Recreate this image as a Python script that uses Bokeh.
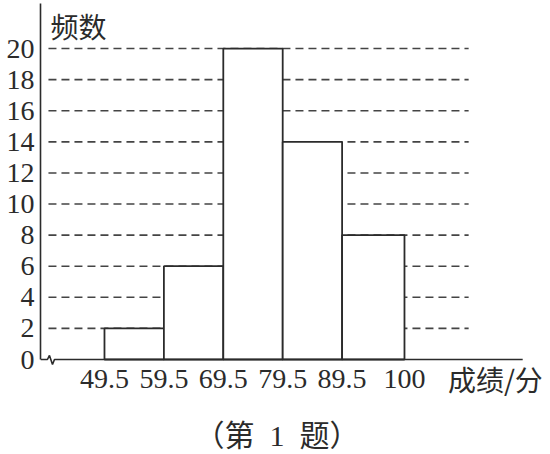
from bokeh.plotting import figure
from bokeh.models import Range1d, FixedTicker, Label
from bokeh.core.properties import value
from bokeh.embed import file_html
from bokeh.resources import INLINE

# score groups (bin edges) and how many students fall in each group
edges = [49.5, 59.5, 69.5, 79.5, 89.5, 100]
edge_labels = ["49.5", "59.5", "69.5", "79.5", "89.5", "100"]
counts = [2, 6, 20, 14, 8]
y_ticks = [0, 2, 4, 6, 8, 10, 12, 14, 16, 18, 20]
x_title = "成绩/分"
y_title = "频数"
caption = "（第\u20021\u2002题）"

ink = "#2b2b2b"
serif = "Liberation Serif"
cjk = "Noto Sans CJK SC"

x0, x1 = 38.73, 124.58
y0, y1 = -6.11, 23.09
label_row = -1.26

p = figure(width=550, height=454,
           x_range=Range1d(x0, x1), y_range=Range1d(y0, y1),
           output_backend="svg", toolbar_location=None,
           min_border_left=40, min_border_right=0, min_border_top=0, min_border_bottom=0)
p.grid.visible = False
p.outline_line_color = None
p.xaxis.visible = False

# dashed guide lines, hidden behind the white bars
levels = y_ticks[1:]
p.segment(x0=[40.07] * len(levels), y0=levels, x1=[110.8] * len(levels), y1=levels,
          line_color="#444444", line_width=1.6, line_dash="8 5")

p.quad(left=edges[:-1], right=edges[1:], bottom=0, top=counts,
       fill_color="white", line_color=ink, line_width=1.8)

# x axis line with the little break near the origin
p.line(x=[x0, 39.9, 40.24, 40.75, 41.08, 119.9], y=[0, 0, 0.26, -0.32, 0, 0],
       line_color=ink, line_width=1.6)

# group edge labels under the x axis line
p.text(x=edges, y=[label_row] * len(edges), text=edge_labels,
       text_font=value(serif), text_font_size="28px", text_color=ink,
       text_align="center", text_baseline="alphabetic")

ya = p.yaxis[0]
ya.ticker = FixedTicker(ticks=y_ticks)
ya.bounds = (0, 22.9)
ya.axis_line_color = ink
ya.axis_line_width = 1.6
ya.major_tick_out = 0
ya.major_tick_in = 0
ya.minor_tick_out = 0
ya.minor_tick_in = 0
ya.major_label_standoff = 6
ya.major_label_text_font = serif
ya.major_label_text_font_size = "28px"
ya.major_label_text_color = ink

p.add_layout(Label(x=40.4, y=22.75, text=y_title, text_font=cjk, text_font_size="28px",
                   text_color=ink, text_baseline="top"))
p.add_layout(Label(x=115.3, y=label_row, text=x_title, text_font=cjk, text_font_size="28px",
                   text_color=ink, text_align="center", text_baseline="alphabetic"))
p.add_layout(Label(x=78.54, y=-4.92, text=caption, text_font=serif + ", " + cjk,
                   text_font_size="30px", text_color=ink, text_align="center",
                   text_baseline="alphabetic"))

open("out.html", "w").write(file_html(p, INLINE))
